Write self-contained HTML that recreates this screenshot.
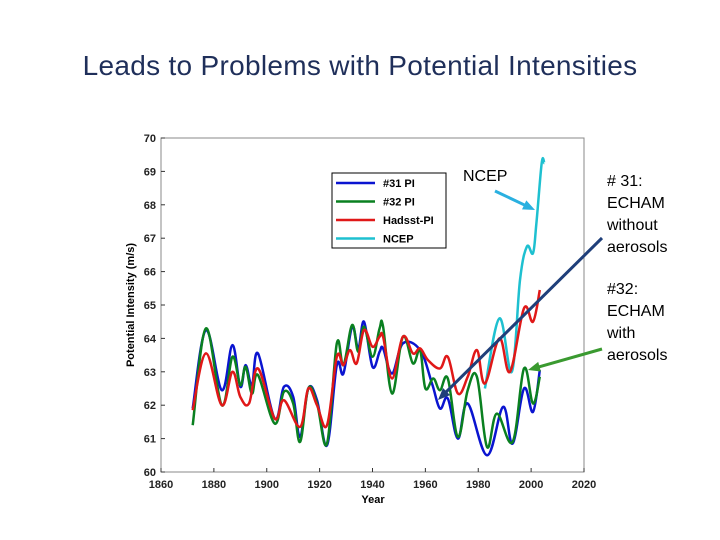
<!DOCTYPE html>
<html><head><meta charset="utf-8"><style>
body{margin:0;background:#fff;width:720px;height:540px;overflow:hidden;position:relative;font-family:"Liberation Sans",sans-serif}
#title{position:absolute;left:0;width:720px;top:50px;text-align:center;font-size:28px;letter-spacing:0.3px;color:#1f2f5a;font-family:"Liberation Sans",sans-serif}
.note{position:absolute;font-size:16px;color:#000;line-height:22px}
</style></head><body>
<div id="title">Leads to Problems with Potential Intensities</div>
<div class="note" style="left:463px;top:166px">NCEP</div>
<div class="note" style="left:607px;top:171px"># 31:<br>ECHAM<br>without<br>aerosols</div>
<div class="note" style="left:607px;top:279px">#32:<br>ECHAM<br>with<br>aerosols</div>
<svg id="chart" width="720" height="540" style="position:absolute;left:0;top:0"></svg>
<script>
const yrs31=[1872,1877,1883,1887,1890,1892,1894.4,1896.7,1903,1906.5,1910,1912.6,1915.7,1919,1922.8,1926.5,1929,1932.3,1934.6,1936.8,1940,1942.7,1944,1947.4,1951.5,1958,1962.5,1965.5,1968.5,1972.3,1976,1983.3,1989.4,1993,1997.3,2000.7,2003.3];
const v31=[61.9,64.25,62.45,63.8,62.55,63.2,62.6,63.55,61.6,62.55,62.25,61.05,62.5,62.15,60.8,63.2,62.95,64.35,63.7,64.5,63.15,63.6,63.7,62.95,63.85,63.65,62.65,61.9,62.2,61.0,62.05,60.5,61.95,60.85,62.5,61.8,63.05];
const yrs32=[1872,1877,1883,1887,1890,1892,1894.4,1896.7,1903,1906.5,1910,1912.6,1915.7,1919,1922.8,1926.5,1929,1932.3,1934.6,1936.8,1940,1942.7,1944,1947.4,1951.5,1955.3,1958,1960,1963,1965.5,1968.5,1972.3,1976,1979.5,1983.3,1987,1993,1997.3,2000.7,2003.3];
const v32=[61.4,64.3,62.0,63.45,62.6,63.15,62.35,62.9,61.45,62.4,62.05,60.9,62.5,62.05,60.85,63.85,63.2,64.4,63.6,64.35,63.45,64.3,64.35,62.35,64.05,63.25,63.65,62.5,62.8,62.45,62.8,61.05,62.45,62.85,60.75,61.75,60.9,63.1,62.05,62.85];
const yrsH=[1872,1877,1883,1887,1890,1893.3,1896.7,1903,1906.5,1912.6,1915.7,1919,1922.8,1926.5,1929,1931.5,1934,1936.8,1940,1942.7,1944,1947.4,1951.5,1955.3,1958,1961,1965.5,1968.5,1972.3,1976,1979.5,1982.5,1988,1992,1997.3,2000.7,2003.3];
const vH=[61.85,63.55,62.0,63.0,62.25,62.05,63.1,61.6,62.15,61.35,62.5,62.0,61.4,63.45,63.2,63.65,63.25,64.25,63.75,64.05,64.05,62.8,64.05,63.55,63.7,63.35,63.1,63.45,62.35,62.85,63.65,62.65,64.0,63.0,64.9,64.5,65.45];
const yrsN=[1982.5,1988,1992.7,1995.8,1998.4,2000.7,2002,2004,2005];
const vN=[62.5,64.6,63.0,65.75,66.75,66.55,67.45,69.25,69.25];
const xTicks=[1860,1880,1900,1920,1940,1960,1980,2000,2020];
const yTicks=[60,61,62,63,64,65,66,67,68,69,70];
const X0=161,X1=584,Y0=472,Y1=138;
const sx=y=>X0+(y-1860)/(2020-1860)*(X1-X0);
const sy=v=>Y0-(v-60)/10*(Y0-Y1);
const svg=document.getElementById('chart');const NS='http://www.w3.org/2000/svg';
function mk(t,a,p){const e=document.createElementNS(NS,t);for(const k in a)e.setAttribute(k,a[k]);(p||svg).appendChild(e);return e;}
const box=mk('rect',{x:X0,y:Y1,width:X1-X0,height:Y0-Y1,fill:'none',stroke:'#888','stroke-width':1});


xTicks.forEach(t=>{mk('line',{x1:sx(t),x2:sx(t),y1:Y0,y2:Y0-4,stroke:'#333'});
const tx=mk('text',{x:sx(t),y:Y0+16,'text-anchor':'middle','font-size':11,'font-weight':'bold',fill:'#222'});tx.textContent=t;

});
yTicks.forEach(t=>{mk('line',{x1:X0,x2:X0+4,y1:sy(t),y2:sy(t),stroke:'#333'});
const tx=mk('text',{x:X0-5,y:sy(t)+4,'text-anchor':'end','font-size':11,'font-weight':'bold',fill:'#222'});tx.textContent=t;

});
const xl=mk('text',{x:373,y:503,'text-anchor':'middle','font-size':11,'font-weight':'bold'});xl.textContent='Year';


const yl=mk('text',{x:0,y:0,'text-anchor':'middle','font-size':11,'font-weight':'bold',transform:'translate(134,305) rotate(-90)'});yl.textContent='Potential Intensity (m/s)';


function line(xs,vs,c,n){const P=xs.map((x,i)=>[sx(x),sy(vs[i])]);let d='M'+P[0][0].toFixed(1)+','+P[0][1].toFixed(1);
for(let i=0;i<P.length-1;i++){const p0=P[Math.max(0,i-1)],p1=P[i],p2=P[i+1],p3=P[Math.min(P.length-1,i+2)];const k=0.18;
d+='C'+(p1[0]+(p2[0]-p0[0])*k).toFixed(1)+','+(p1[1]+(p2[1]-p0[1])*k).toFixed(1)+' '+(p2[0]-(p3[0]-p1[0])*k).toFixed(1)+','+(p2[1]-(p3[1]-p1[1])*k).toFixed(1)+' '+p2[0].toFixed(1)+','+p2[1].toFixed(1);}
const p=mk('path',{d:d,fill:'none',stroke:c,'stroke-width':2.5,'stroke-linejoin':'round'});

}
line(yrsN,vN,'#1ec0d0','series-ncep');
line(yrs31,v31,'#0a14d0','series-31-pi');
line(yrs32,v32,'#0a8020','series-32-pi');
line(yrsH,vH,'#e01818','series-hadsst-pi');
const lg=mk('g',{});
mk('rect',{x:332,y:173,width:114,height:75,fill:'#fff',stroke:'#000'},lg);
[['#31 PI','#0a14d0'],['#32 PI','#0a8020'],['Hadsst-PI','#e01818'],['NCEP','#1ec0d0']].forEach((e,i)=>{
const y=183+i*18.5;mk('line',{x1:336,x2:375,y1:y,y2:y,stroke:e[1],'stroke-width':2.5},lg);
const t=mk('text',{x:383,y:y+4,'font-size':11,'font-weight':'bold'},lg);t.textContent=e[0];

});
function arrow(x1,y1,x2,y2,c,n){const a=Math.atan2(y2-y1,x2-x1),L=12,W=5;
const g=mk('g',{});
mk('line',{x1:x1,y1:y1,x2:x2-Math.cos(a)*8,y2:y2-Math.sin(a)*8,stroke:c,'stroke-width':3},g);
const bx=x2-Math.cos(a)*L,by=y2-Math.sin(a)*L;
mk('polygon',{points:`${x2},${y2} ${bx-Math.sin(a)*W},${by+Math.cos(a)*W} ${bx+Math.sin(a)*W},${by-Math.cos(a)*W}`,fill:c},g);}
arrow(495,191,535,210,'#2ab0e0','ncep-arrow');
arrow(602,238,438,400,'#1f3f7a','arrow-31');
arrow(602,349,528,370,'#3a9a30','arrow-32');
</script>
</body></html>
